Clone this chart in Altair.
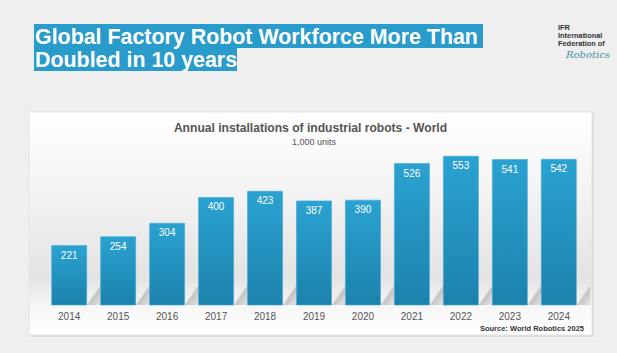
import altair as alt
import pandas as pd

years = ["2014", "2015", "2016", "2017", "2018", "2019", "2020", "2021", "2022", "2023", "2024"]
installs = [221, 254, 304, 400, 423, 387, 390, 526, 553, 541, 542]

headline_1 = "Global Factory Robot Workforce More Than"
headline_2 = "Doubled in 10 years"
chart_title = "Annual installations of industrial robots - World"
chart_subtitle = "1,000 units"
source_note = "Source: World Robotics 2025"
logo_lines = ["IFR", "International", "Federation of"]
logo_script = "Robotics"

FONT = "Liberation Sans"
df = pd.DataFrame({"year": years, "value": installs})
one = alt.Data(values=[{"k": 1}])

xscale = alt.Scale(domain=years, range=[44.7, 583.3], paddingInner=0.285, paddingOuter=0.1425)
yscale = alt.Scale(domain=[0, 553], range=[305, 156.3], nice=False, zero=True)

panel_grad = alt.Gradient(
    gradient="linear", x1=0, x2=0, y1=0, y2=1,
    stops=[
        alt.GradientStop(color="#ffffff", offset=0),
        alt.GradientStop(color="#f4f4f4", offset=0.35),
        alt.GradientStop(color="#e3e3e3", offset=0.74),
        alt.GradientStop(color="#f7f7f7", offset=0.87),
        alt.GradientStop(color="#ffffff", offset=1),
    ],
)
bar_grad = alt.Gradient(
    gradient="linear", x1=0, x2=0, y1=0, y2=1,
    stops=[
        alt.GradientStop(color="#2aa2d1", offset=0),
        alt.GradientStop(color="#1c82ad", offset=1),
    ],
)
shadow_grad = alt.Gradient(
    gradient="linear", x1=0, y1=0, x2=1, y2=1,
    stops=[
        alt.GradientStop(color="rgba(200,200,200,0)", offset=0),
        alt.GradientStop(color="rgba(200,200,200,0)", offset=0.46),
        alt.GradientStop(color="rgba(190,190,190,0.9)", offset=0.56),
        alt.GradientStop(color="rgba(215,215,215,0.6)", offset=1),
    ],
)

panel_shadow = alt.Chart(one).mark_rect(color="#dcdcdc").encode(
    x=alt.value(30), x2=alt.value(594), y=alt.value(113), y2=alt.value(337)
)
panel = alt.Chart(one).mark_rect(fill=panel_grad, stroke="#e4e4e4", strokeWidth=1).encode(
    x=alt.value(29), x2=alt.value(592), y=alt.value(112), y2=alt.value(335)
)

banner1 = alt.Chart(one).mark_rect(color="#2a9ccb").encode(
    x=alt.value(34), x2=alt.value(483), y=alt.value(24), y2=alt.value(48)
)
banner2 = alt.Chart(one).mark_rect(color="#2a9ccb").encode(
    x=alt.value(34), x2=alt.value(237), y=alt.value(48), y2=alt.value(71)
)
head1 = alt.Chart(one).mark_text(
    text=headline_1, font=FONT, fontSize=21.4, fontWeight="bold", color="white",
    align="left", baseline="alphabetic"
).encode(x=alt.value(35), y=alt.value(43.5))
head2 = alt.Chart(one).mark_text(
    text=headline_2, font=FONT, fontSize=21.4, fontWeight="bold", color="white",
    align="left", baseline="alphabetic"
).encode(x=alt.value(35), y=alt.value(66.5))

logo_layers = []
for i, t in enumerate(logo_lines):
    logo_layers.append(
        alt.Chart(one).mark_text(
            text=t, font=FONT, fontSize=7.4, fontWeight="bold", color="#333333",
            align="left", baseline="middle"
        ).encode(x=alt.value(558), y=alt.value(28 + 8 * i))
    )
logo_layers.append(
    alt.Chart(one).mark_text(
        text=logo_script, font="DejaVu Serif", fontSize=10, fontStyle="italic",
        color="#3a8fa8", align="left", baseline="middle"
    ).encode(x=alt.value(566), y=alt.value(55))
)

title = alt.Chart(one).mark_text(
    text=chart_title, font=FONT, fontSize=12.1, fontWeight="bold", color="#555555",
    align="center", baseline="alphabetic"
).encode(x=alt.value(310.5), y=alt.value(131.5))
subtitle = alt.Chart(one).mark_text(
    text=chart_subtitle, font=FONT, fontSize=9, color="#555555",
    align="center", baseline="middle"
).encode(x=alt.value(314), y=alt.value(142))

base = alt.Chart(df)
xenc = alt.X("year:N", scale=xscale, axis=None, sort=years)
shadows = base.mark_bar(fill=shadow_grad, width=14, xOffset=24.5).encode(
    x=xenc,
    y=alt.Y("value:Q", scale=yscale, axis=None),
    y2=alt.datum(0),
).transform_calculate(value="75")
bars = base.mark_bar(fill=bar_grad, stroke="#3aaad6", strokeWidth=0.6).encode(
    x=xenc,
    y=alt.Y("value:Q", scale=yscale, axis=None),
    y2=alt.datum(0),
)
labels = base.mark_text(
    font=FONT, fontSize=10, color="white", baseline="middle", dy=10
).encode(
    x=xenc,
    y=alt.Y("value:Q", scale=yscale, axis=None),
    text="value:Q",
)
xlabels = base.mark_text(
    font=FONT, fontSize=10, color="#555555", baseline="middle"
).encode(
    x=xenc,
    y=alt.value(317),
    text="year:N",
)
source = alt.Chart(one).mark_text(
    text=source_note, font=FONT, fontSize=7.5, fontWeight="bold", color="#333333",
    align="right", baseline="alphabetic"
).encode(x=alt.value(584), y=alt.value(331))

chart = alt.layer(
    panel_shadow, panel, banner1, banner2, head1, head2, *logo_layers,
    title, subtitle, shadows, bars, labels, xlabels, source
).properties(
    width=617, height=353,
    autosize=alt.AutoSizeParams(type="none"),
    padding=0,
    background="#efefef",
).configure_view(stroke=None)

chart.save("out.html", embed_options={"renderer": "svg", "actions": False})
